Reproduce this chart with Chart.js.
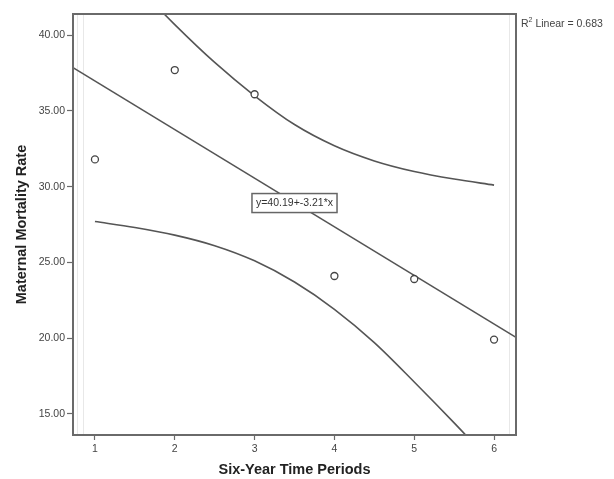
<!DOCTYPE html>
<html>
<head>
<meta charset="utf-8">
<script src="https://cdn.jsdelivr.net/npm/chart.js@4.4.1/dist/chart.umd.min.js"></script>
<style>
  html, body { margin: 0; padding: 0; background: #fff; }
</style>
</head>
<body>
<canvas id="mortalityChart" width="614" height="479"></canvas>
<script>
// Données
const periods = [1, 2, 3, 4, 5, 6];
const mortality = [31.8, 37.7, 36.1, 24.1, 23.9, 19.9];

// Droite de régression (extrémités lues aux bords du graphique)
const fitX = [0.725, 6.275];
const fitY = [37.86, 20.05];

// Bandes de confiance
const bandX = [1, 1.5, 2, 2.5, 3, 3.5, 4, 4.5, 5, 5.5, 6];
const upperBand = [46.2, 43.4, 40.7, 38.2, 36.0, 34.1, 32.7, 31.7, 31.0, 30.5, 30.1];
const lowerBand = [27.7, 27.3, 26.8, 26.1, 25.1, 23.7, 21.9, 19.7, 17.1, 14.4, 11.6];

const xTicks = [1, 2, 3, 4, 5, 6];
const yTicks = [15, 20, 25, 30, 35, 40];
const equationText = 'y=40.19+-3.21*x';
const rSquaredText = '0.683';

const lineColor = '#555555';
const axisColor = '#6a6a6a';

function toPoints(xs, ys) {
    return xs.map((x, i) => ({ x: x, y: ys[i] }));
}

// Cadre, bandes claires, équation et R²
const extras = {
    id: 'extras',
    beforeDatasetsDraw(chart) {
        const { ctx, chartArea: a } = chart;
        ctx.save();
        ctx.strokeStyle = '#e8e8e8';
        ctx.lineWidth = 1;
        [a.left + 4.5, a.left + 10.5, a.right - 6.5].forEach(x => {
            ctx.beginPath();
            ctx.moveTo(x, a.top);
            ctx.lineTo(x, a.bottom);
            ctx.stroke();
        });
        ctx.restore();
    },
    afterDraw(chart) {
        const { ctx, chartArea: a, scales } = chart;
        ctx.save();
        // cadre
        ctx.strokeStyle = axisColor;
        ctx.lineWidth = 2;
        ctx.strokeRect(a.left, a.top, a.right - a.left, a.bottom - a.top);

        // étiquette de l'équation au point moyen
        const mx = periods.reduce((s, v) => s + v, 0) / periods.length;
        const my = mortality.reduce((s, v) => s + v, 0) / mortality.length;
        const px = scales.x.getPixelForValue(mx);
        const py = scales.y.getPixelForValue(my);
        ctx.font = '10.5px "Liberation Sans", Arial, sans-serif';
        const w = ctx.measureText(equationText).width + 8;
        const h = 19;
        ctx.fillStyle = '#ffffff';
        ctx.fillRect(px - w / 2, py - h / 2, w, h);
        ctx.strokeStyle = '#666666';
        ctx.lineWidth = 1.5;
        ctx.strokeRect(px - w / 2, py - h / 2, w, h);
        ctx.fillStyle = '#333333';
        ctx.textAlign = 'center';
        ctx.textBaseline = 'middle';
        ctx.fillText(equationText, px, py + 0.5);

        // R² Linear
        let tx = a.right + 5;
        const ty = a.top + 10;
        ctx.textAlign = 'left';
        ctx.font = '10.5px "Liberation Sans", Arial, sans-serif';
        ctx.fillStyle = '#444444';
        ctx.fillText('R', tx, ty);
        tx += ctx.measureText('R').width;
        ctx.font = '7px "Liberation Sans", Arial, sans-serif';
        ctx.fillText('2', tx, ty - 4);
        tx += ctx.measureText('2').width;
        ctx.font = '10.5px "Liberation Sans", Arial, sans-serif';
        ctx.fillText(' Linear = ' + rSquaredText, tx, ty);
        ctx.restore();
    }
};

const ctx = document.getElementById('mortalityChart').getContext('2d');

const chart = new Chart(ctx, {
    type: 'scatter',
    data: {
        datasets: [{
            label: 'Observed',
            data: toPoints(periods, mortality),
            showLine: false,
            pointRadius: 3.5,
            pointBorderWidth: 1.3,
            pointBorderColor: '#444444',
            pointBackgroundColor: '#ffffff'
        }, {
            label: 'Linear',
            data: toPoints(fitX, fitY),
            showLine: true,
            borderColor: lineColor,
            borderWidth: 1.6,
            pointRadius: 0
        }, {
            label: 'Upper',
            data: toPoints(bandX, upperBand),
            showLine: true,
            borderColor: lineColor,
            borderWidth: 1.6,
            pointRadius: 0,
            cubicInterpolationMode: 'monotone'
        }, {
            label: 'Lower',
            data: toPoints(bandX, lowerBand),
            showLine: true,
            borderColor: lineColor,
            borderWidth: 1.6,
            pointRadius: 0,
            cubicInterpolationMode: 'monotone'
        }]
    },
    options: {
        responsive: false,
        animation: false,
        layout: {
            padding: { top: 14, right: 98, left: 0, bottom: 0 }
        },
        scales: {
            x: {
                type: 'linear',
                min: 0.725,
                max: 6.275,
                afterBuildTicks: scale => { scale.ticks = xTicks.map(v => ({ value: v })); },
                afterFit: scale => { scale.height = 44; },
                border: { display: true, color: axisColor, width: 2 },
                grid: {
                    drawOnChartArea: false,
                    color: axisColor,
                    tickLength: 5,
                    tickWidth: 1.2
                },
                ticks: {
                    color: '#444444',
                    padding: 3,
                    font: { family: '"Liberation Sans", Arial, sans-serif', size: 10.5 },
                    callback: v => String(v)
                },
                title: {
                    display: true,
                    text: 'Six-Year Time Periods',
                    color: '#222222',
                    padding: { top: 0, bottom: 0 },
                    font: { family: '"Liberation Sans", Arial, sans-serif', size: 14.5, weight: 'bold' }
                }
            },
            y: {
                type: 'linear',
                min: 13.6,
                max: 41.4,
                afterBuildTicks: scale => { scale.ticks = yTicks.map(v => ({ value: v })); },
                afterFit: scale => { scale.width = 73; },
                border: { display: true, color: axisColor, width: 2 },
                grid: {
                    drawOnChartArea: false,
                    color: axisColor,
                    tickLength: 6,
                    tickWidth: 1.2
                },
                ticks: {
                    color: '#444444',
                    padding: 2,
                    font: { family: '"Liberation Sans", Arial, sans-serif', size: 10.5 },
                    callback: v => Number(v).toFixed(2)
                },
                title: {
                    display: true,
                    text: 'Maternal Mortality Rate',
                    color: '#222222',
                    padding: { top: 13, bottom: 0 },
                    font: { family: '"Liberation Sans", Arial, sans-serif', size: 14.5, weight: 'bold' }
                }
            }
        },
        plugins: {
            legend: { display: false },
            tooltip: { enabled: false }
        }
    },
    plugins: [extras]
});
</script>
</body>
</html>
